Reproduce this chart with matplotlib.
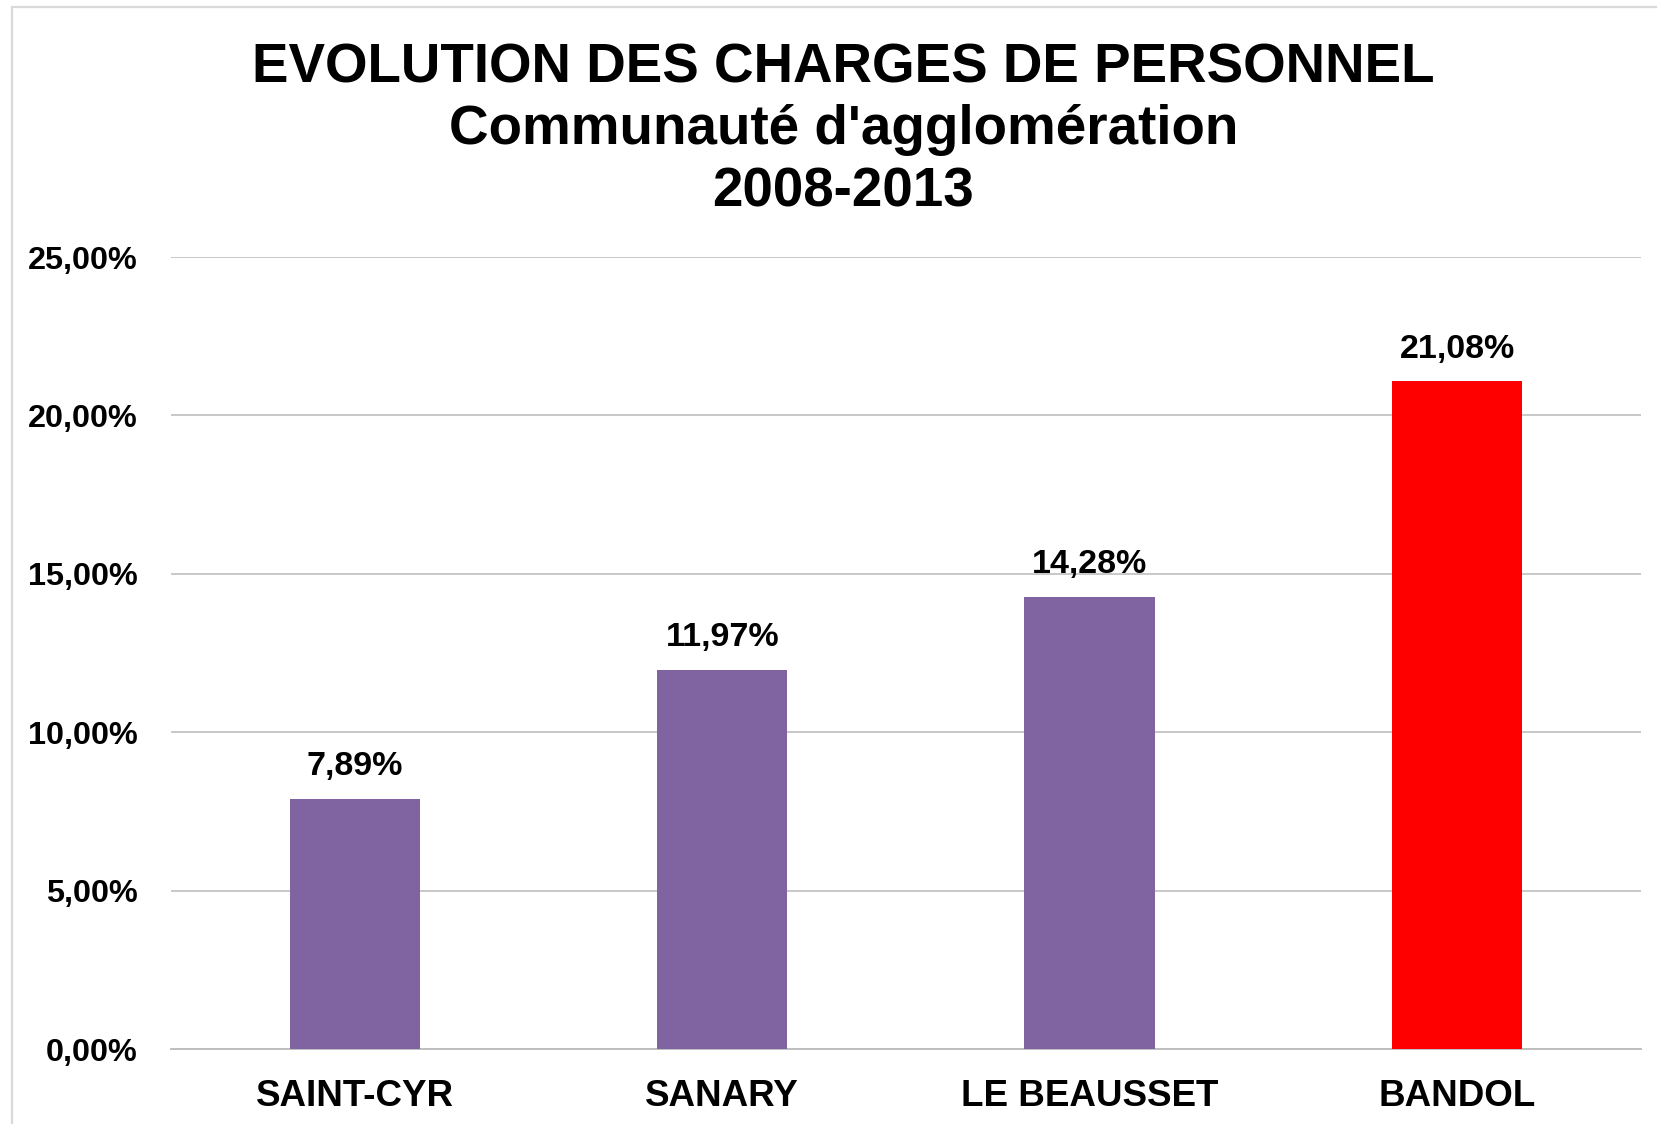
import matplotlib.pyplot as plt
from matplotlib.ticker import FuncFormatter
from matplotlib.patches import Rectangle

# Data
communes = ['SAINT-CYR', 'SANARY', 'LE BEAUSSET', 'BANDOL']
evolution = [7.89, 11.97, 14.28, 21.08]
bar_colors = ['#8064A2', '#8064A2', '#8064A2', '#FF0000']
title_lines = ['EVOLUTION DES CHARGES DE PERSONNEL',
               "Communauté d'agglomération",
               '2008-2013']

plt.rcParams['font.family'] = ['Liberation Sans', 'DejaVu Sans']
plt.rcParams['font.weight'] = 'bold'

def fr_pct(v, pos=None):
    return f'{v:.2f}'.replace('.', ',') + '%'

fig = plt.figure(figsize=(16.57, 11.24), dpi=100)
ax = fig.add_axes([0.1032, 0.0667, 0.8871, 0.7046])

# chart border (cut on the right and bottom in the original)
fig.patches.append(Rectangle((12 / 1657, -0.1), 1.2, 1 - 7 / 1124 + 0.1,
                             transform=fig.transFigure, fill=False,
                             edgecolor='#D9D9D9', linewidth=1.6))

x = range(len(communes))
ax.bar(x, evolution, width=0.355, color=bar_colors, zorder=3)

for xi, v in zip(x, evolution):
    ax.annotate(fr_pct(v), xy=(xi, v), xytext=(0, 12), textcoords='offset points',
                ha='center', va='bottom', fontsize=24.5, fontweight='bold')

ax.set_xlim(-0.5, len(communes) - 0.5)
ax.set_ylim(0, 25)
ax.set_yticks([0, 5, 10, 15, 20, 25])
ax.yaxis.set_major_formatter(FuncFormatter(fr_pct))
ax.set_xticks(list(x))
ax.set_xticklabels(communes)
ax.tick_params(axis='y', length=0, pad=24, labelsize=23.3)
ax.tick_params(axis='x', length=0, pad=21.5, labelsize=26.5)
ax.grid(axis='y', color='#BFBFBF', linewidth=1.2, zorder=0)
for s in ['top', 'right', 'left']:
    ax.spines[s].set_visible(False)
ax.spines['bottom'].set_color('#BFBFBF')
ax.spines['bottom'].set_linewidth(1.4)

# title, one line per text
for i, line in enumerate(title_lines):
    fig.text(0.509, 0.9270 - i * 0.0552, line, ha='center', va='baseline',
             fontsize=39.4, fontweight='bold')

fig.savefig('out.png', dpi=100, facecolor='white')
